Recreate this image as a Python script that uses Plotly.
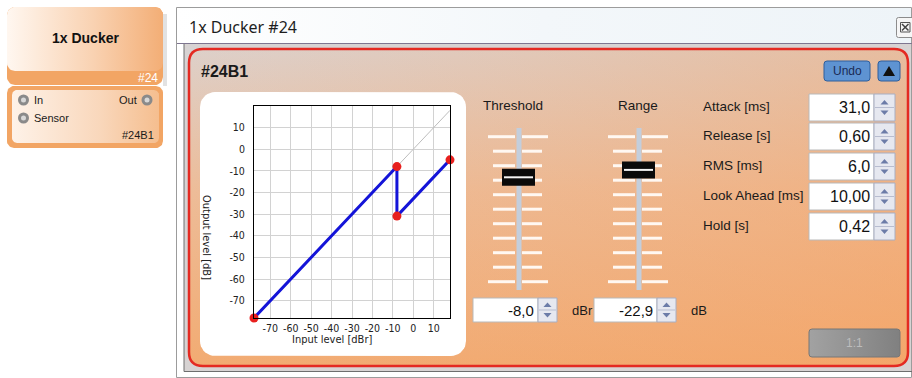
import numpy as np
import plotly.graph_objects as go

W, H = 912, 378

# ---------------- data ----------------
threshold_db = -8.0
range_db = -22.9
curve_input = [-78.0, -8.0, -8.0, 18.0]
curve_output = [-78.0, -8.0, -30.9, -4.9]
unity_input = [-8.0, 18.0]
unity_output = [-8.0, 18.0]
x_tick_vals = [-70, -60, -50, -40, -30, -20, -10, 0, 10]
x_tick_text = ["-70", "-60", "-50", "-40", "-30", "-20", "-10", "0", "10"]
y_tick_vals = [10, 0, -10, -20, -30, -40, -50, -60, -70]
y_tick_text = ["10", "0", "-10", "-20", "-30", "-40", "-50", "-60", "-70"]
slider_labels = ["Threshold", "Range"]
slider_values = [threshold_db, range_db]
slider_units = ["dBr", "dB"]
slider_scale_top = [20.0, 0.0]
slider_scale_bottom = [-80.0, -100.0]
param_labels = ["Attack [ms]", "Release [s]", "RMS [ms]", "Look Ahead [ms]", "Hold [s]"]
param_values = ["31,0", "0,60", "6,0", "10,00", "0,42"]

UI = "Liberation Sans, Arial, sans-serif"
NARROW = "Liberation Sans Narrow, Arial Narrow, DejaVu Sans Condensed, Liberation Sans, sans-serif"
TITLE_FONT = "Noto Sans, Open Sans, sans-serif"

fig = go.Figure()
shapes = []
annotations = []


def rr_poly(x0, y0, x1, y1, r, n=10):
    xs, ys = [], []
    for cx, cy, a0 in [(x0 + r, y0 + r, np.pi), (x1 - r, y0 + r, 1.5 * np.pi),
                       (x1 - r, y1 - r, 0.0), (x0 + r, y1 - r, 0.5 * np.pi)]:
        t = np.linspace(a0, a0 + 0.5 * np.pi, n)
        xs += list(cx + r * np.cos(t))
        ys += list(cy + r * np.sin(t))
    xs.append(xs[0]); ys.append(ys[0])
    return xs, ys


def rr_path(x0, y0, x1, y1, r):
    return (f"M{x0+r},{y0} L{x1-r},{y0} Q{x1},{y0} {x1},{y0+r} L{x1},{y1-r} "
            f"Q{x1},{y1} {x1-r},{y1} L{x0+r},{y1} Q{x0},{y1} {x0},{y1-r} "
            f"L{x0},{y0+r} Q{x0},{y0} {x0+r},{y0} Z")


def fill(x0, y0, x1, y1, r=0, color=None, grad=None, gtype="horizontal"):
    if r > 0:
        xs, ys = rr_poly(x0, y0, x1, y1, r)
    else:
        xs, ys = [x0, x1, x1, x0, x0], [y0, y0, y1, y1, y0]
    kw = dict(x=xs, y=ys, mode="lines", fill="toself",
              line=dict(width=0, color="rgba(0,0,0,0)"),
              hoverinfo="skip", showlegend=False, xaxis="x", yaxis="y")
    if grad is not None:
        kw["fillgradient"] = dict(type=gtype, colorscale=grad)
    else:
        kw["fillcolor"] = color
    fig.add_trace(go.Scatter(**kw))


def rect(x0, y0, x1, y1, fc="rgba(0,0,0,0)", lc="rgba(0,0,0,0)", lw=1, r=0):
    base = dict(xref="x", yref="y", layer="above", fillcolor=fc, opacity=1,
                line=dict(color=lc, width=lw))
    if r > 0:
        shapes.append(dict(type="path", path=rr_path(x0, y0, x1, y1, r), **base))
    else:
        shapes.append(dict(type="rect", x0=x0, y0=y0, x1=x1, y1=y1, **base))


def line(x0, y0, x1, y1, c, w=1):
    shapes.append(dict(type="line", xref="x", yref="y", layer="above",
                       x0=x0, y0=y0, x1=x1, y1=y1, line=dict(color=c, width=w)))


def poly(path, fc):
    shapes.append(dict(type="path", xref="x", yref="y", layer="above", path=path,
                       fillcolor=fc, line=dict(width=0, color="rgba(0,0,0,0)")))


def circ(cx, cy, r, fc, lc="rgba(0,0,0,0)", lw=0):
    shapes.append(dict(type="circle", xref="x", yref="y", layer="above",
                       x0=cx - r, x1=cx + r, y0=cy - r, y1=cy + r,
                       fillcolor=fc, line=dict(color=lc, width=lw)))


def txt(x, y, s, size, color="#1a1a1a", xanchor="left", family=UI, angle=0):
    annotations.append(dict(x=x, y=y, xref="x", yref="y", text=s, showarrow=False,
                            xanchor=xanchor, yanchor="middle", textangle=angle,
                            font=dict(size=size, color=color, family=family)))


def spinner(x0, x1, y0, y1):
    rect(x0, y0, x1, y1, fc="#E6E8F0", lc="#A8AEC2", lw=1)
    ym = (y0 + y1) / 2
    line(x0 + 1, ym, x1 - 1, ym, "#B8BDD0", 1)
    cx = (x0 + x1) / 2
    poly(f"M{cx-4},{ym-3} L{cx+4},{ym-3} L{cx},{ym-7.5} Z", "#6C7CA8")
    poly(f"M{cx-4},{ym+3} L{cx+4},{ym+3} L{cx},{ym+7.5} Z", "#6C7CA8")


# ---------------- left node block ----------------
fill(163, 14, 167, 86, color="#E2E2E2")
fill(7, 7, 163, 85, r=8, color="#F2A564")
fill(7, 7, 163, 71, r=8, grad=[[0, "#FFF7F0"], [0.55, "#F9D2B2"], [1, "#F3AE76"]])
fill(7, 86, 163, 148, r=7, color="#F2A564")
fill(12, 90, 159, 143, r=5, grad=[[0, "#FEF2E8"], [0.6, "#F9D7BB"], [1, "#F5BE8F"]])
txt(85, 38, "<b>1x Ducker</b>", 14, "#111111", xanchor="center")
txt(160, 78, "#24", 12, "#FFFFFF", xanchor="right")
for cx, cy in [(23.5, 100), (23.5, 118), (147, 100)]:
    circ(cx, cy, 5.5, "#8A8A8A")
    circ(cx, cy, 2.5, "#D8D8D8")
txt(32, 100, "In", 11)
txt(32, 118, "Sensor", 11)
txt(139, 100, "Out", 11, xanchor="right")
txt(156, 135, "#24B1", 11, xanchor="right")

# ---------------- window ----------------
fill(176, 7, 912, 378, color="#FFFFFF")
fill(177, 8, 912, 43, grad=[[0, "#FFFFFF"], [0.5, "#F3F7FA"], [1, "#EEF4F8"]])
fill(184, 44, 912, 371, color="#D7D3D3")
# orange panel (vertical gradient: colorscale runs bottom -> top on screen)
fill(189, 49, 908, 366, r=14, grad=[[0, "#F2AB72"], [0.55, "#EDBC98"], [1, "#DDD0CA"]], gtype="vertical")
fill(189, 49, 908, 366, r=14, grad=[[0, "rgba(240,170,120,0)"], [1, "rgba(246,160,95,0.4)"]])
# chart white panel
fill(200, 92, 466, 356, r=15, color="#FFFFFF")
# 1:1 button
fill(809, 329, 900, 357, r=3, grad=[[0, "#A2A2A2"], [1, "#808080"]])

rect(176.5, 7.5, 911.5, 377.5, lc="#9C9C9C", lw=1)
line(177, 43.5, 912, 43.5, "#7E7690", 1)
line(184, 44, 184, 371.5, "#6E6E6E", 1)
line(184, 371.5, 912, 371.5, "#6E6E6E", 1)
txt(187, 27, "1x Ducker #24", 16, "#1E1E1E", family=TITLE_FONT)
# close button
rect(896.5, 17.5, 915, 37.5, fc="#F6F6F6", lc="#8C8C8C", lw=1, r=2)
rect(900.5, 22.5, 910, 32, lc="#555555", lw=1)
line(902, 24, 908.5, 30.5, "#444444", 1.5)
line(902, 30.5, 908.5, 24, "#444444", 1.5)

rect(189, 49, 908, 366, lc="#E42A22", lw=2.5, r=14)
txt(199, 71, "<b>#24B1</b>", 16, "#1A1A1A")

# Undo + up button
rect(824, 61, 870, 81, fc="#5E93D2", lc="#2E5E9C", lw=1, r=3)
txt(847, 71, "Undo", 12, "#1A2A55", xanchor="center")
rect(878, 61, 900, 81, fc="#5E93D2", lc="#2E5E9C", lw=1, r=3)
poly("M883,76 L895,76 L889,66 Z", "#111111")
rect(809, 329, 900, 357, lc="#767676", lw=1, r=3)
txt(854.5, 343, "1:1", 12, "#BDBDBD", xanchor="center")

# ---------------- sliders ----------------
tick_top, tick_bot = 136.7, 281.7
slider_cx = [519, 639]
label_cx = [512.5, 637.5]
box_x0 = [473, 594]
box_x1 = [538, 657]
spin_x1 = [557, 676]
unit_x = [570, 689]
for i in range(2):
    cx = slider_cx[i]
    txt(label_cx[i], 105, slider_labels[i], 13.5, "#1A1A1A", xanchor="center")
    for k in range(11):
        ty = tick_top + k * (tick_bot - tick_top) / 10
        long = k in (0, 10)
        line(cx - (31 if long else 26), ty, cx - 4, ty, "#FFF8F2", 3)
        line(cx + 3, ty, cx + (29 if long else 23), ty, "#FFF8F2", 3)
    rect(cx - 2.5, 128, cx + 2.5, 290, fc="#C3CEDC")
    frac = (slider_scale_top[i] - slider_values[i]) / (slider_scale_top[i] - slider_scale_bottom[i])
    ty = tick_top + frac * (tick_bot - tick_top)
    rect(cx - 17, ty - 8.5, cx + 16, ty + 8.5, fc="#0A0A0A")
    line(cx - 15, ty, cx + 14, ty, "#F4F4F4", 2)
    # value box
    rect(box_x0[i], 298, box_x1[i], 322, fc="#FFFFFF", lc="#B9B9B9", lw=1)
    spinner(box_x1[i], spin_x1[i], 298, 322)
    txt(box_x1[i] - 2, 310, f"{slider_values[i]:.1f}".replace(".", ","), 15, "#111111", xanchor="right")
    txt(unit_x[i], 310, slider_units[i], 13, "#1A1A1A")

# ---------------- parameter boxes ----------------
row_y0 = [94, 123, 153, 183, 213]
for i, (lab, val) in enumerate(zip(param_labels, param_values)):
    y0 = row_y0[i]
    y1 = y0 + 27
    ym = (y0 + y1) / 2
    txt(701, ym - 1, lab, 13.5, "#1A1A1A")
    rect(809, y0, 874, y1, fc="#FFFFFF", lc="#B9B9B9", lw=1)
    spinner(874, 895, y0, y1)
    txt(872, ym, val, 16, "#111111", xanchor="right")

# ---------------- chart ----------------
fig.add_trace(go.Scatter(x=unity_input, y=unity_output, mode="lines",
                         line=dict(color="#BDBDBD", width=1), hoverinfo="skip",
                         showlegend=False, xaxis="x2", yaxis="y2", cliponaxis=False))
fig.add_trace(go.Scatter(x=curve_input, y=curve_output, mode="lines",
                         line=dict(color="#1414D8", width=3), showlegend=False,
                         xaxis="x2", yaxis="y2", cliponaxis=False))
fig.add_trace(go.Scatter(x=curve_input, y=curve_output, mode="markers",
                         marker=dict(color="#E8201E", size=9), showlegend=False,
                         xaxis="x2", yaxis="y2", cliponaxis=False))

txt(332, 339, "Input level [dBr]", 11, "#222222", xanchor="center", family=NARROW)
txt(207, 237, "Output level [dB]", 11, "#222222", xanchor="center", family=NARROW, angle=90)

px0, px1, py0, py1 = 254, 450, 106, 318
fig.update_layout(
    width=W, height=H, autosize=False,
    margin=dict(l=0, r=0, t=0, b=0, pad=0),
    paper_bgcolor="#FFFFFF", plot_bgcolor="rgba(0,0,0,0)",
    showlegend=False,
    xaxis=dict(domain=[0, 1], range=[0, W], visible=False, fixedrange=True),
    yaxis=dict(domain=[0, 1], range=[H, 0], visible=False, fixedrange=True),
    xaxis2=dict(domain=[px0 / W, px1 / W], range=[-78, 18], anchor="y2",
                tickvals=x_tick_vals, ticktext=x_tick_text, showgrid=True,
                gridcolor="#D2D2D2", gridwidth=1, zeroline=False, showline=True,
                mirror=True, linecolor="#000000", linewidth=1, ticks="",
                ticklabelstandoff=0,
                tickfont=dict(size=10.5, color="#222222", family=NARROW)),
    yaxis2=dict(domain=[1 - py1 / H, 1 - py0 / H], range=[-78, 20], anchor="x2",
                tickvals=y_tick_vals, ticktext=y_tick_text, showgrid=True,
                gridcolor="#D2D2D2", gridwidth=1, zeroline=False, showline=True,
                mirror=True, linecolor="#000000", linewidth=1, ticks="",
                ticklabelstandoff=6,
                tickfont=dict(size=10.5, color="#222222", family=NARROW)),
    shapes=shapes,
    annotations=annotations,
)

fig.write_html("out.html", config={"displayModeBar": False},
               post_script="document.body.style.margin='0';document.body.style.overflow='hidden';")
